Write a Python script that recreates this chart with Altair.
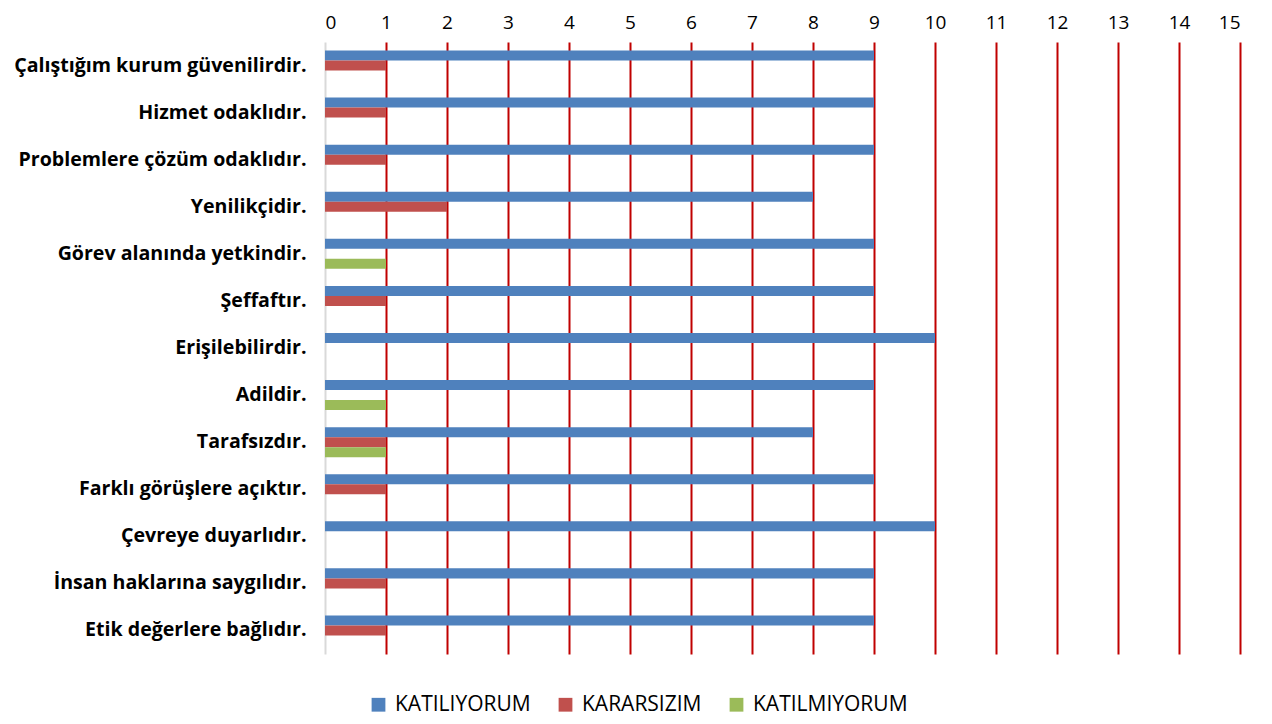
import altair as alt
import pandas as pd

categories = [
    "Çalıştığım kurum güvenilirdir.",
    "Hizmet odaklıdır.",
    "Problemlere çözüm odaklıdır.",
    "Yenilikçidir.",
    "Görev alanında yetkindir.",
    "Şeffaftır.",
    "Erişilebilirdir.",
    "Adildir.",
    "Tarafsızdır.",
    "Farklı görüşlere açıktır.",
    "Çevreye duyarlıdır.",
    "İnsan haklarına saygılıdır.",
    "Etik değerlere bağlıdır.",
]
series = ["KATILIYORUM", "KARARSIZIM", "KATILMIYORUM"]
katiliyorum = [9, 9, 9, 8, 9, 9, 10, 9, 8, 9, 10, 9, 9]
kararsizim = [1, 1, 1, 2, 0, 1, 0, 0, 1, 1, 0, 1, 1]
katilmiyorum = [0, 0, 0, 0, 1, 0, 0, 1, 1, 0, 0, 0, 0]
colors = ["#4F81BD", "#C0504D", "#9BBB59"]
x_ticks = list(range(0, 16))

rows = []
for i, c in enumerate(categories):
    for s, vals in zip(series, [katiliyorum, kararsizim, katilmiyorum]):
        if vals[i] > 0:
            rows.append({"kategori": c, "seri": s, "deger": vals[i]})
df = pd.DataFrame(rows)

FONT = "Open Sans"

chart = alt.Chart(df).mark_bar().encode(
    y=alt.Y("kategori:N", sort=categories, title=None,
            scale=alt.Scale(paddingInner=0, paddingOuter=0),
            axis=alt.Axis(domain=False, ticks=False, labelFontWeight="bold",
                          labelFontSize=19.6, labelColor="black", labelFont=FONT,
                          labelPadding=19, labelLimit=400)),
    x=alt.X("deger:Q", title=None,
            scale=alt.Scale(domain=[0, 15], nice=False),
            axis=alt.Axis(orient="top", values=x_ticks, domain=False, ticks=False,
                          labelFontSize=19, labelColor="black", labelFont=FONT,
                          labelPadding=10,
                          gridColor={"condition": {"test": "datum.value === 0", "value": "#d9d9d9"},
                                     "value": "#C00000"},
                          gridWidth=2)),
    yOffset=alt.YOffset("seri:N", sort=series,
                        scale=alt.Scale(domain=series, paddingInner=0, paddingOuter=0.85)),
    color=alt.Color("seri:N", sort=series,
                    scale=alt.Scale(domain=series, range=colors),
                    legend=alt.Legend(title=None, orient="none", direction="horizontal",
                                      legendX=43, legendY=652,
                                      symbolType="square", symbolSize=190, symbolStrokeWidth=0,
                                      labelFontSize=21, labelFont=FONT, labelColor="black",
                                      labelOffset=6, columnPadding=24)),
).properties(
    width=915, height=612
).configure_view(stroke=None)

chart.save("out.html", embed_options={"renderer": "svg", "actions": False})
